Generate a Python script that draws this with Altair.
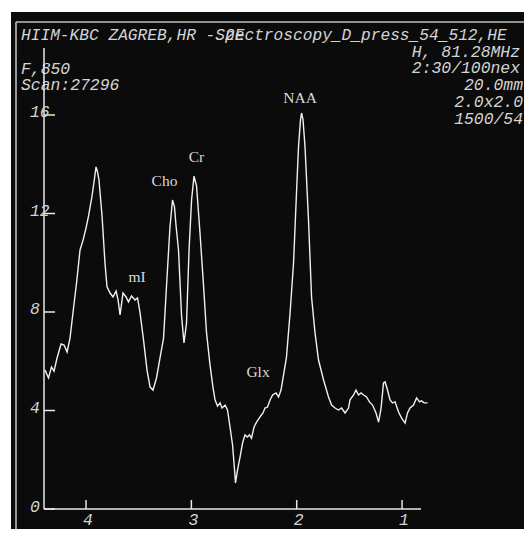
import altair as alt
import pandas as pd

# ---- spectrum (chemical shift in ppm, signal intensity) ----
ppm = [4.389, 4.356, 4.328, 4.304, 4.275, 4.237, 4.209, 4.180, 4.152, 4.123,
       4.090, 4.057, 4.028, 4.000, 3.976, 3.943, 3.919, 3.905, 3.891, 3.877,
       3.848, 3.820, 3.801, 3.772, 3.744, 3.715, 3.696, 3.677, 3.649, 3.620,
       3.597, 3.568, 3.535, 3.511, 3.487, 3.454, 3.421, 3.392, 3.364, 3.331,
       3.298, 3.264, 3.231, 3.203, 3.179, 3.160, 3.146, 3.122, 3.093, 3.070,
       3.046, 3.022, 2.998, 2.975, 2.951, 2.918, 2.885, 2.856, 2.823, 2.794,
       2.775, 2.752, 2.728, 2.709, 2.680, 2.657, 2.633, 2.609, 2.590, 2.581,
       2.562, 2.538, 2.514, 2.491, 2.467, 2.448, 2.429, 2.405, 2.381, 2.348,
       2.320, 2.301, 2.277, 2.253, 2.229, 2.196, 2.172, 2.149, 2.125, 2.097,
       2.063, 2.030, 2.002, 1.983, 1.964, 1.954, 1.940, 1.921, 1.888, 1.859,
       1.826, 1.793, 1.745, 1.698, 1.669, 1.636, 1.603, 1.574, 1.541, 1.508,
       1.494, 1.460, 1.437, 1.413, 1.389, 1.365, 1.337, 1.309, 1.280, 1.247,
       1.223, 1.199, 1.176, 1.161, 1.138, 1.114, 1.090, 1.066, 1.033, 1.005,
       0.971, 0.948, 0.924, 0.891, 0.862, 0.834, 0.815, 0.791, 0.758]
intensity = [5.64, 5.32, 5.77, 5.60, 6.13, 6.70, 6.66, 6.38, 6.94, 8.00,
             9.18, 10.52, 10.92, 11.41, 11.90, 12.71, 13.44, 13.89, 13.69, 13.36,
             11.90, 9.99, 9.02, 8.77, 8.61, 8.85, 8.49, 7.88, 8.77, 8.61,
             8.41, 8.65, 8.49, 8.57, 7.96, 6.86, 5.64, 4.95, 4.83, 5.32,
             6.13, 6.94, 9.42, 11.45, 12.55, 12.26, 11.53, 10.52, 7.84, 6.74,
             7.55, 10.52, 12.55, 13.52, 13.12, 11.21, 9.10, 7.15, 5.85, 4.91,
             4.43, 4.18, 4.31, 4.10, 4.22, 4.02, 3.33, 2.60, 1.58, 1.06,
             1.58, 2.11, 2.68, 3.01, 2.92, 3.01, 2.88, 3.33, 3.53, 3.74,
             3.90, 4.10, 4.14, 4.43, 4.63, 4.71, 4.55, 4.83, 5.44, 6.17,
             7.96, 9.99, 12.83, 14.70, 15.80, 16.08, 15.80, 14.70, 11.74, 8.61,
             7.15, 6.05, 5.24, 4.55, 4.22, 4.10, 4.02, 4.10, 3.90, 4.10,
             4.43, 4.63, 4.83, 4.63, 4.71, 4.63, 4.55, 4.35, 4.22, 3.90,
             3.53, 4.10, 5.12, 5.16, 4.83, 4.43, 4.31, 4.35, 3.94, 3.70,
             3.49, 3.90, 4.10, 4.22, 4.51, 4.35, 4.39, 4.31, 4.31]

# ---- metabolite labels ----
peak_names = ["NAA", "Cr", "Cho", "mI", "Glx"]
peak_ppm = [1.968, 2.951, 3.255, 3.516, 2.367]
peak_level = [16.49, 14.09, 13.12, 9.22, 5.38]

# ---- axis ticks ----
y_ticks = [0, 4, 8, 12, 16]
y_tick_labels = ["0", "4", "8", "12", "16"]
x_ticks = [4, 3, 2, 1]
x_tick_labels = ["4", "3", "2", "1"]

# ---- scanner header texts ----
header = "HIIM-KBC ZAGREB,HR -Spectroscopy_D_press_54_512,HE"
header_overlay = "2E"
left_info = ["F,850", "Scan:27296"]
right_info_a = ["H, 81.28MHz", "2:30/100nex"]
right_info_b = ["20.0mm", "2.0x2.0", "1500/54"]

W, H = 377, 461
PR, PB = 103, 20
MONO = "Liberation Mono"
TXT = "#d4d4d4"
LINE = "#e8e8e8"
FS = 16.4
FSH = 16.2
CWH = FSH * 0.6

spec = pd.DataFrame({"ppm": ppm, "val": intensity, "i": range(len(ppm))})
peaks = pd.DataFrame({"name": peak_names, "ppm": peak_ppm, "val": peak_level})
yt = pd.DataFrame({"val": y_ticks, "lab": y_tick_labels})
xt = pd.DataFrame({"ppm": x_ticks, "lab": x_tick_labels})
one = pd.DataFrame({"k": [0]})

xs = alt.Scale(domain=[0.82, 4.399], reverse=True, nice=False, zero=False)
ys = alt.Scale(domain=[0, 18.72], nice=False, zero=False)
X = lambda f: alt.X(f, type="quantitative", scale=xs, axis=None)
Y = lambda f: alt.Y(f, type="quantitative", scale=ys, axis=None)

bg = alt.Chart(one).mark_rect(color="#0b0b0b").encode(
    x=alt.value(-33), x2=alt.value(W + PR), y=alt.value(-36), y2=alt.value(H + PB))
frame_v = alt.Chart(one).mark_rule(color="#bdbdbd", strokeWidth=1.6).encode(
    x=alt.value(-28), y=alt.value(-26), y2=alt.value(H + PB))
frame_h = alt.Chart(one).mark_rule(color="#bdbdbd", strokeWidth=1.6).encode(
    y=alt.value(-26), x=alt.value(-28), x2=alt.value(W + PR))
yaxis = alt.Chart(one).mark_rule(color=LINE, strokeWidth=1.5).encode(
    x=alt.value(0), y=alt.value(0), y2=alt.value(H))
xaxis = alt.Chart(one).mark_rule(color=LINE, strokeWidth=1.5).encode(
    y=alt.value(H), x=alt.value(0), x2=alt.value(W))
yticks = alt.Chart(yt).mark_rule(color=LINE, strokeWidth=1.5).encode(
    y=Y("val"), x=alt.value(0), x2=alt.value(11))
xticks = alt.Chart(xt).mark_rule(color=LINE, strokeWidth=1.5).encode(
    x=X("ppm"), y=alt.value(H - 9), y2=alt.value(H))
ylabels = alt.Chart(yt).mark_text(font=MONO, fontStyle="italic", fontSize=FS, color=TXT,
                                  align="left", baseline="alphabetic", dy=2.5).encode(
    y=Y("val"), x=alt.value(-14), text="lab:N")
xlabels = alt.Chart(xt).mark_text(font=MONO, fontStyle="italic", fontSize=FS, color=TXT,
                                  align="center", baseline="alphabetic", dx=2).encode(
    x=X("ppm"), y=alt.value(H + 15.5), text="lab:N")
trace = alt.Chart(spec).mark_line(color="#f0f0f0", strokeWidth=1.4).encode(
    x=X("ppm"), y=Y("val"), order="i:Q")
plabels = alt.Chart(peaks).mark_text(font="Liberation Serif", fontSize=15.5, color="#dadada",
                                     align="center", baseline="alphabetic").encode(
    x=X("ppm"), y=Y("val"), text="name:N")

def mono(lines, x, y, align, lh=16.8, fs=FS):
    return alt.Chart(one).mark_text(font=MONO, fontStyle="italic", fontSize=fs, color=TXT,
                                    align=align, baseline="alphabetic", lineHeight=lh).encode(
        x=alt.value(x), y=alt.value(y), text=alt.value(lines))

t_header = mono(header, -23, -8, "left", fs=FSH)
t_overlay = mono(header_overlay, -23 + 21 * CWH, -8, "left", fs=FSH)
t_left = mono(left_info, -23, 26, "left", 16)
t_right_a = mono(right_info_a, 476, 8.5, "right")
t_right_b = mono(right_info_b, 479, 42, "right")

chart = alt.layer(
    bg, frame_v, frame_h, t_header, t_overlay, t_left, t_right_a, t_right_b,
    trace, yaxis, xaxis, yticks, xticks, ylabels, xlabels, plabels
).properties(
    width=W, height=H,
    autosize=alt.AutoSizeParams(type="none"),
    padding={"left": 36, "top": 40, "right": PR, "bottom": PB},
).configure(background="white").configure_view(strokeWidth=0)

chart.save("out.html", embed_options={"renderer": "svg", "actions": False})
